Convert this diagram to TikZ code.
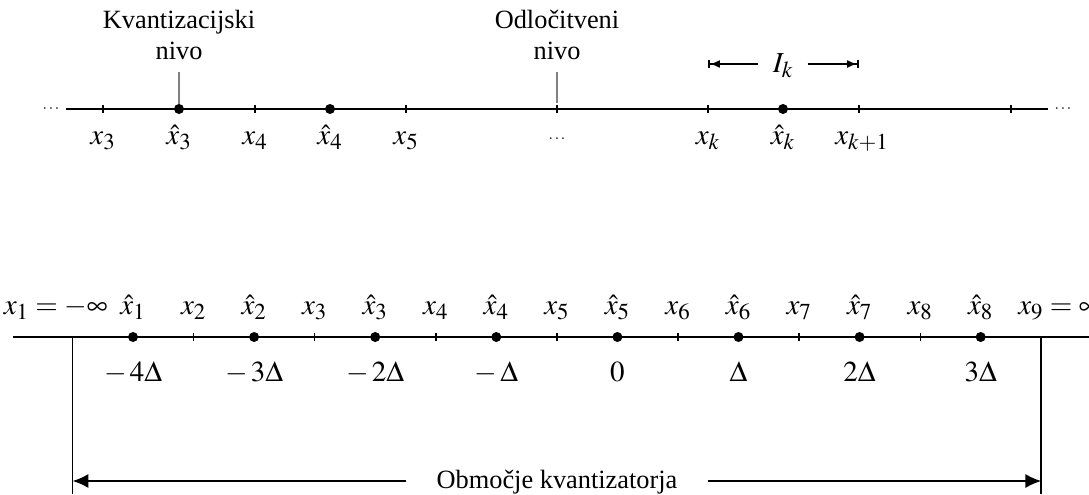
\documentclass[tikz,border=0pt]{standalone}
\usepackage{mathptmx}
\usepackage{fontspec}
\setmainfont{Liberation Serif}
\usetikzlibrary{arrows.meta}
\DeclareMathSizes{16.5}{16.5}{13}{10}

\begin{document}
\begin{tikzpicture}[x=0.02cm,y=-0.02cm,font=\fontsize{15pt}{17.6pt}\selectfont,
        axis/.style={line width=1.4pt},
        tickmark/.style={line width=0.8pt},
        dot/.style={circle,fill,inner sep=0pt,minimum size=0.2cm},
        lbl/.style={anchor=base,inner sep=0pt,font=\fontsize{16.5pt}{19pt}\selectfont},
        lvl/.style={draw=gray,line width=0.7pt},
        note/.style={align=center,anchor=south,inner xsep=0pt,inner ysep=7pt},
        fence/.style={line width=1.1pt},
        span/.style={line width=1.1pt},
        smalldots/.style={inner sep=0pt,anchor=base,font=\fontsize{9pt}{11pt}\selectfont}]
        \useasboundingbox (0,0) rectangle (1089,494);
        % upper axis
        \coordinate (ta) at (66,109);
        \coordinate (tb) at (1048,109);
        \draw[axis] (ta) -- (tb);
        \node[smalldots] (tdl) at (51,112) {$\cdots$};
        \node[smalldots] (tdr) at (1063,112) {$\cdots$};
        \foreach \x/\n in {103/t3,255/t4,406/t5,557/tm,708/tk,859/tkk,1011/tr}
          {\coordinate (\n) at (\x,109);
           \draw[tickmark] (\x,105) -- (\x,113);}
        \node[dot] (q3) at (179,109) {};
        \node[dot] (q4) at (330,109) {};
        \node[dot] (qk) at (783,109) {};
        \node[lbl] (lx3) at (103,144) {$x_3$};
        \node[lbl] (lq3) at (179,144) {$\hat{x}_3$};
        \node[lbl] (lx4) at (255,144) {$x_4$};
        \node[lbl] (lq4) at (330,144) {$\hat{x}_4$};
        \node[lbl] (lx5) at (406,144) {$x_5$};
        \node[smalldots] (lm) at (557,139) {$\ldots$};
        \node[lbl] (lxk) at (708,144) {$x_k$};
        \node[lbl] (lqk) at (783,144) {$\hat{x}_k$};
        \node[lbl] (lxkk) at (862,144) {$x_{k+1}$};
        \node[note] (kvant) at (179,72) {Kvantizacijski\\nivo};
        \node[note] (odl) at (557,72) {Odločitveni\\nivo};
        \coordinate (tmtop) at (557,103);
        \draw[lvl] (kvant.south) -- (q3.north);
        \draw[lvl] (odl.south) -- (tmtop);
        \node[lbl,inner xsep=8pt] (ik) at (783,72) {$I_k$};
        \coordinate (ikl) at (708,64);
        \coordinate (ikr) at (859,64);
        \draw[span,-{Latex[length=5.7pt,width=4.6pt]Bar[width=4.6pt]}] (ik.west |- ikl) -- (ikl);
        \draw[span,-{Latex[length=5.7pt,width=4.6pt]Bar[width=4.6pt]}] (ik.east |- ikr) -- (ikr);

        % lower axis
        \coordinate (ba) at (13,337);
        \coordinate (bb) at (1089,337);
        \draw[axis] (ba) -- (bb);
        \foreach \i/\v in {1/{-\,4\Delta},2/{-\,3\Delta},3/{-\,2\Delta},4/{-\,\Delta},5/0,6/\Delta,7/2\Delta,8/3\Delta}
          {\node[dot] (p\i) at ({133+(\i-1)*121.1},337) {};
           \node[lbl] (h\i) at ({133+(\i-1)*121.1},314) {$\hat{x}_\i$};
           \node[lbl] (v\i) at ({133+(\i-1)*121.1},381) {$\v$};}
        \foreach \i in {2,...,8}
          {\coordinate (b\i) at ({72.5+(\i-1)*121.1},337);
           \draw[tickmark] ({72.5+(\i-1)*121.1},333) -- ({72.5+(\i-1)*121.1},341);
           \node[lbl] (x\i) at ({72.5+(\i-1)*121.1},314) {$x_\i$};}
        \node[lbl,anchor=base east] (x1) at (108,314) {$x_1=-\infty$};
        \node[lbl,anchor=base west] (x9) at (1018,314) {$x_9=\infty$};
        \coordinate (b1) at (72.5,337);
        \coordinate (b1e) at (72.5,494);
        \coordinate (b9) at (1041.3,337);
        \coordinate (b9e) at (1041.3,494);
        \draw[fence] (b1) -- (b1e);
        \draw[fence] (b9) -- (b9e);
        \node[lbl,font=\fontsize{15pt}{17.6pt}\selectfont,inner xsep=17pt] (rng) at (557,488) {Območje kvantizatorja};
        \coordinate (rl) at (72.5,481);
        \coordinate (rr) at (1041.3,481);
        \draw[span,-{Latex[length=9pt,width=8pt]}] (rng.west |- rl) -- (rl);
        \draw[span,-{Latex[length=9pt,width=8pt]}] (rng.east |- rr) -- (rr);
      \end{tikzpicture}
\end{document}
